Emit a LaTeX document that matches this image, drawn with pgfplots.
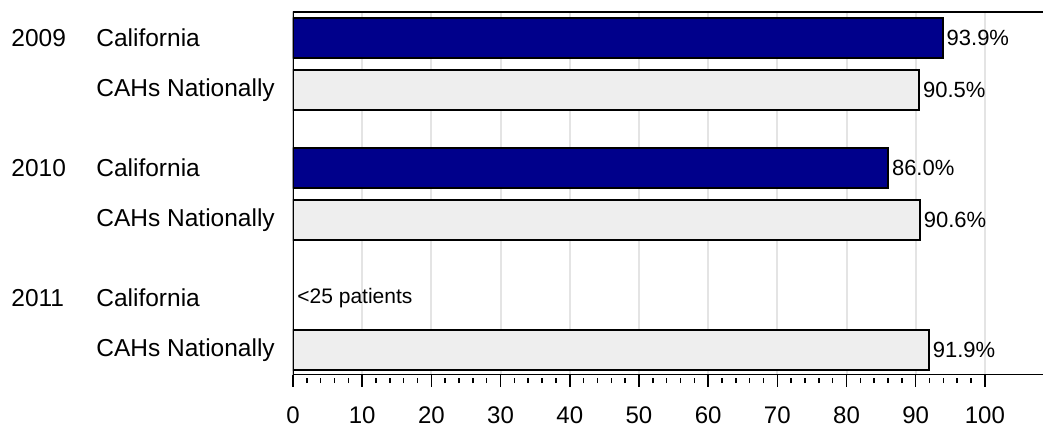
\documentclass[border=0pt]{standalone}
\usepackage{pgfplots}
\pgfplotsset{compat=1.18}
\usepackage{fontspec}
\setmainfont{Liberation Sans}

\definecolor{calblue}{RGB}{0,0,139}
\definecolor{cahgray}{RGB}{238,238,238}
\definecolor{gridgray}{RGB}{228,228,228}

\begin{document}
\begin{tikzpicture}
\begin{axis}[
  scale only axis,
  width=375pt, height=181.5pt,
  xmin=0, xmax=108.4,
  ymin=-0.48, ymax=6.5,
  xbar,
  bar width=0.77,
  axis line style={draw=none},
  xtick={0,10,...,100},
  minor xtick={0,2,...,100},
  xtick pos=left,
  tick align=outside,
  major tick length=6pt,
  minor tick length=2.8pt,
  every tick/.style={black, line width=0.75pt},
  every minor tick/.append style={yshift=-1.3pt},
  xmajorgrids,
  major grid style={gridgray, line width=1pt},
  /pgf/number format/assume math mode=true,
  xticklabel style={font=\fontsize{12}{13}\selectfont, yshift=-6.5pt},
  ytick={0,1,2.5,3.5,5,6},
  yticklabels={
    \makebox[42.5pt][l]{}CAHs Nationally,
    \makebox[42.5pt][l]{2011}California,
    \makebox[42.5pt][l]{}CAHs Nationally,
    \makebox[42.5pt][l]{2010}California,
    \makebox[42.5pt][l]{}CAHs Nationally,
    \makebox[42.5pt][l]{2009}California},
  ytick style={draw=none},
  yticklabel style={anchor=west, inner sep=0pt, xshift=-135pt,
    font=\fontsize{12.25}{14}\selectfont},
  nodes near coords={\pgfmathprintnumber[fixed, fixed zerofill, precision=1]{\pgfplotspointmeta}\%},
  nodes near coords style={anchor=west, inner sep=1.5pt,
    font=\fontsize{11}{12}\selectfont},
]
% California
\addplot[bar shift=0pt, fill=calblue, draw=black, line width=1pt]
  coordinates {(93.9,6) (86.0,3.5)};
% CAHs nationally
\addplot[bar shift=0pt, fill=cahgray, draw=black, line width=1pt]
  coordinates {(90.5,5) (90.6,2.5) (91.9,0)};

\node[anchor=west, inner sep=2pt, font=\fontsize{10.5}{12}\selectfont]
  at (axis cs:0,1) {<25 patients};

\draw[line width=1pt] (rel axis cs:1,1) -- (rel axis cs:0,1)
  -- (rel axis cs:0,0) -- (rel axis cs:1,0);
\coordinate (bl) at (rel axis cs:0,0);
\coordinate (tr) at (rel axis cs:1,1);
\end{axis}
\pgfresetboundingbox
\path[use as bounding box] ([shift={(-146.5pt,-26pt)}]bl) rectangle ([yshift=6pt]tr);
\end{tikzpicture}
\end{document}
